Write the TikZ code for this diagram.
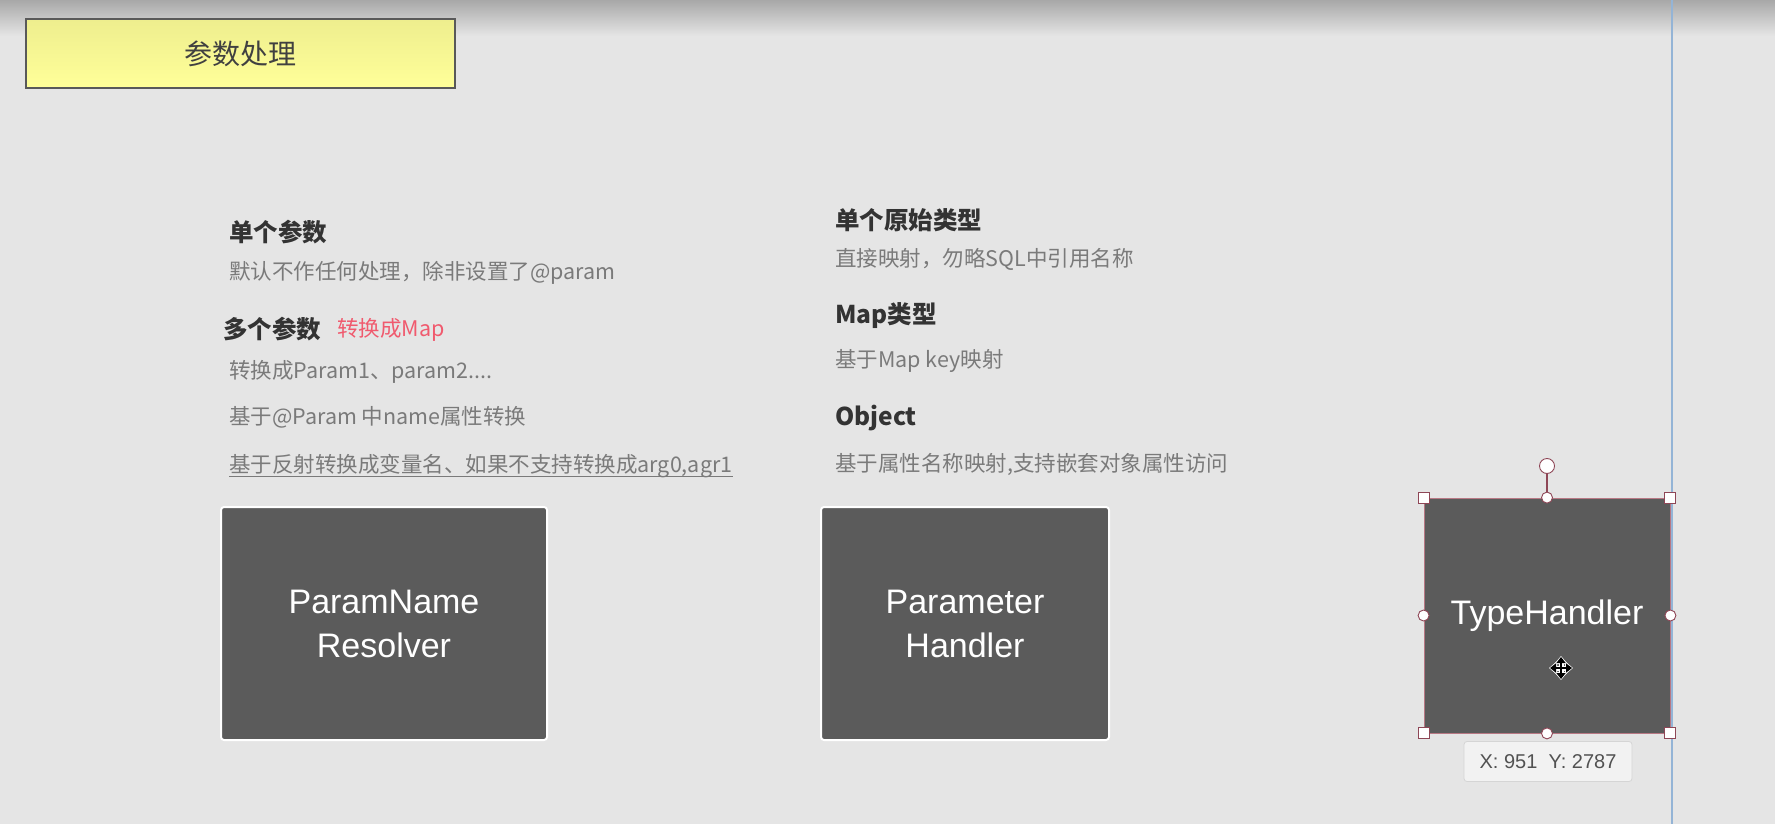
\documentclass[tikz,border=0pt]{standalone}
\usepackage{fontspec}
\setmainfont{Noto Sans CJK SC}
\newfontfamily\latfont{Liberation Sans}
\usetikzlibrary{arrows.meta}
\definecolor{bg}{HTML}{E5E5E5}
\definecolor{topgray}{HTML}{A8A8A8}
\definecolor{boxgray}{HTML}{5B5B5B}
\definecolor{bodygray}{HTML}{7A7A7A}
\definecolor{headgray}{HTML}{333333}
\definecolor{mapred}{HTML}{F05A6E}
\definecolor{selpink}{HTML}{B87884}
\definecolor{handlecol}{HTML}{8E4656}
\definecolor{guide}{HTML}{94B4D6}
\definecolor{ytop}{HTML}{EEEE8E}
\definecolor{ybot}{HTML}{FFFF99}
\definecolor{tipfill}{HTML}{F2F2F2}
\definecolor{tipline}{HTML}{D5D5D5}
\begin{document}
\begin{tikzpicture}[x=1pt,y=-1pt,
  head/.style={anchor=west,inner sep=0pt,font=\fontsize{24.5}{28}\selectfont\bfseries,text=headgray},
  body/.style={anchor=west,inner sep=0pt,font=\fontsize{21.5}{25}\selectfont,text=bodygray},
  darkbox/.style={rounded corners=3pt,fill=boxgray,draw=white,line width=2pt,text=white,align=center,
    font=\latfont\fontsize{34}{44}\selectfont,inner sep=0pt},
  selbox/.style={fill=boxgray,draw=selpink,line width=0.8pt,text=white,align=center,
    font=\latfont\fontsize{34}{44}\selectfont,inner sep=0pt},
  sqhandle/.style={draw=handlecol,fill=white,line width=0.9pt,minimum size=11pt,inner sep=0pt},
  cirhandle/.style={circle,draw=handlecol,fill=white,line width=0.9pt,minimum size=11pt,inner sep=0pt},
  tip/.style={rounded corners=3pt,fill=tipfill,draw=tipline,line width=0.8pt,text=black!68,
    font=\latfont\fontsize{20}{24}\selectfont,inner sep=0pt}
]
\useasboundingbox (0,0) rectangle (1775,824);
\fill[bg] (0,0) rectangle (1775,824);
\shade[top color=topgray,bottom color=bg] (0,0) rectangle (1775,36);

% guide line
\draw[guide,line width=1.2pt] (1672,0) -- (1672,824);

% title
\node[draw=black!65,line width=1.5pt,top color=ytop,bottom color=ybot,minimum width=429pt,minimum height=69pt,
  inner sep=0pt,font=\fontsize{28}{32}\selectfont,text=black!75] (title) at (240.5,53.5) {参数处理};

% left column
\node[head] (h1) at (229,232) {单个参数};
\node[body] (b1) at (229,273) {默认不作任何处理，除非设置了@param};
\node[head] (h2) at (223,329) {多个参数};
\node[body,text=mapred] (red) at (337,330) {转换成Map};
\node[body] (b2) at (229,372) {转换成Param1、param2....};
\node[body] (b3) at (229,417) {基于@Param 中name属性转换};
\node[body] (b4) at (229,466) {基于反射转换成变量名、如果不支持转换成arg0,agr1};
\draw[bodygray,line width=1pt] ([yshift=-4pt]b4.base west) -- ([yshift=-4pt]b4.base east);

% right column
\node[head] (h3) at (835,220) {单个原始类型};
\node[body] (b5) at (835,259) {直接映射，勿略SQL中引用名称};
\node[head] (h4) at (835,316) {Map类型};
\node[body] (b6) at (835,361) {基于Map key映射};
\node[head] (h5) at (835,418) {Object};
\node[body] (b7) at (835,464) {基于属性名称映射,支持嵌套对象属性访问};

% boxes
\node[darkbox,minimum width=326pt,minimum height=233pt] (pnr) at (384,623.5) {ParamName\\Resolver};
\node[darkbox,minimum width=288pt,minimum height=233pt] (ph) at (965,623.5) {Parameter\\Handler};
\node[selbox,minimum width=246pt,minimum height=235pt] (th) at (1547,615.5) {\raisebox{-4pt}{TypeHandler}};

% selection handles
\node[sqhandle] (c1) at (th.north west) {};
\node[sqhandle] (c2) at (th.north east) {};
\node[sqhandle] (c3) at (th.south west) {};
\node[sqhandle] (c4) at (th.south east) {};
\node[cirhandle] (m1) at (th.north) {};
\node[cirhandle] (m2) at (th.south) {};
\node[cirhandle] (m3) at (th.west) {};
\node[cirhandle] (m4) at (th.east) {};
\node[cirhandle,minimum size=15pt] (rot) at (1547,466) {};
\draw[handlecol,line width=1.2pt] (rot.south) -- (m1.north);

% move cursor
\coordinate (mv) at (1561,668);
\foreach \a in {0,90,180,270}
  \draw[white,line width=5pt,-{Triangle[length=8pt,width=13pt]}] (mv) -- ++(\a:12pt);
\foreach \a in {0,90,180,270}
  \draw[black,line width=2pt,-{Triangle[length=6pt,width=9pt]}] (mv) -- ++(\a:11pt);

% coordinate tooltip
\node[tip,minimum width=168pt,minimum height=40pt] (xy) at (1548,761.5) {X: 951\ \ Y: 2787};
\end{tikzpicture}
\end{document}
